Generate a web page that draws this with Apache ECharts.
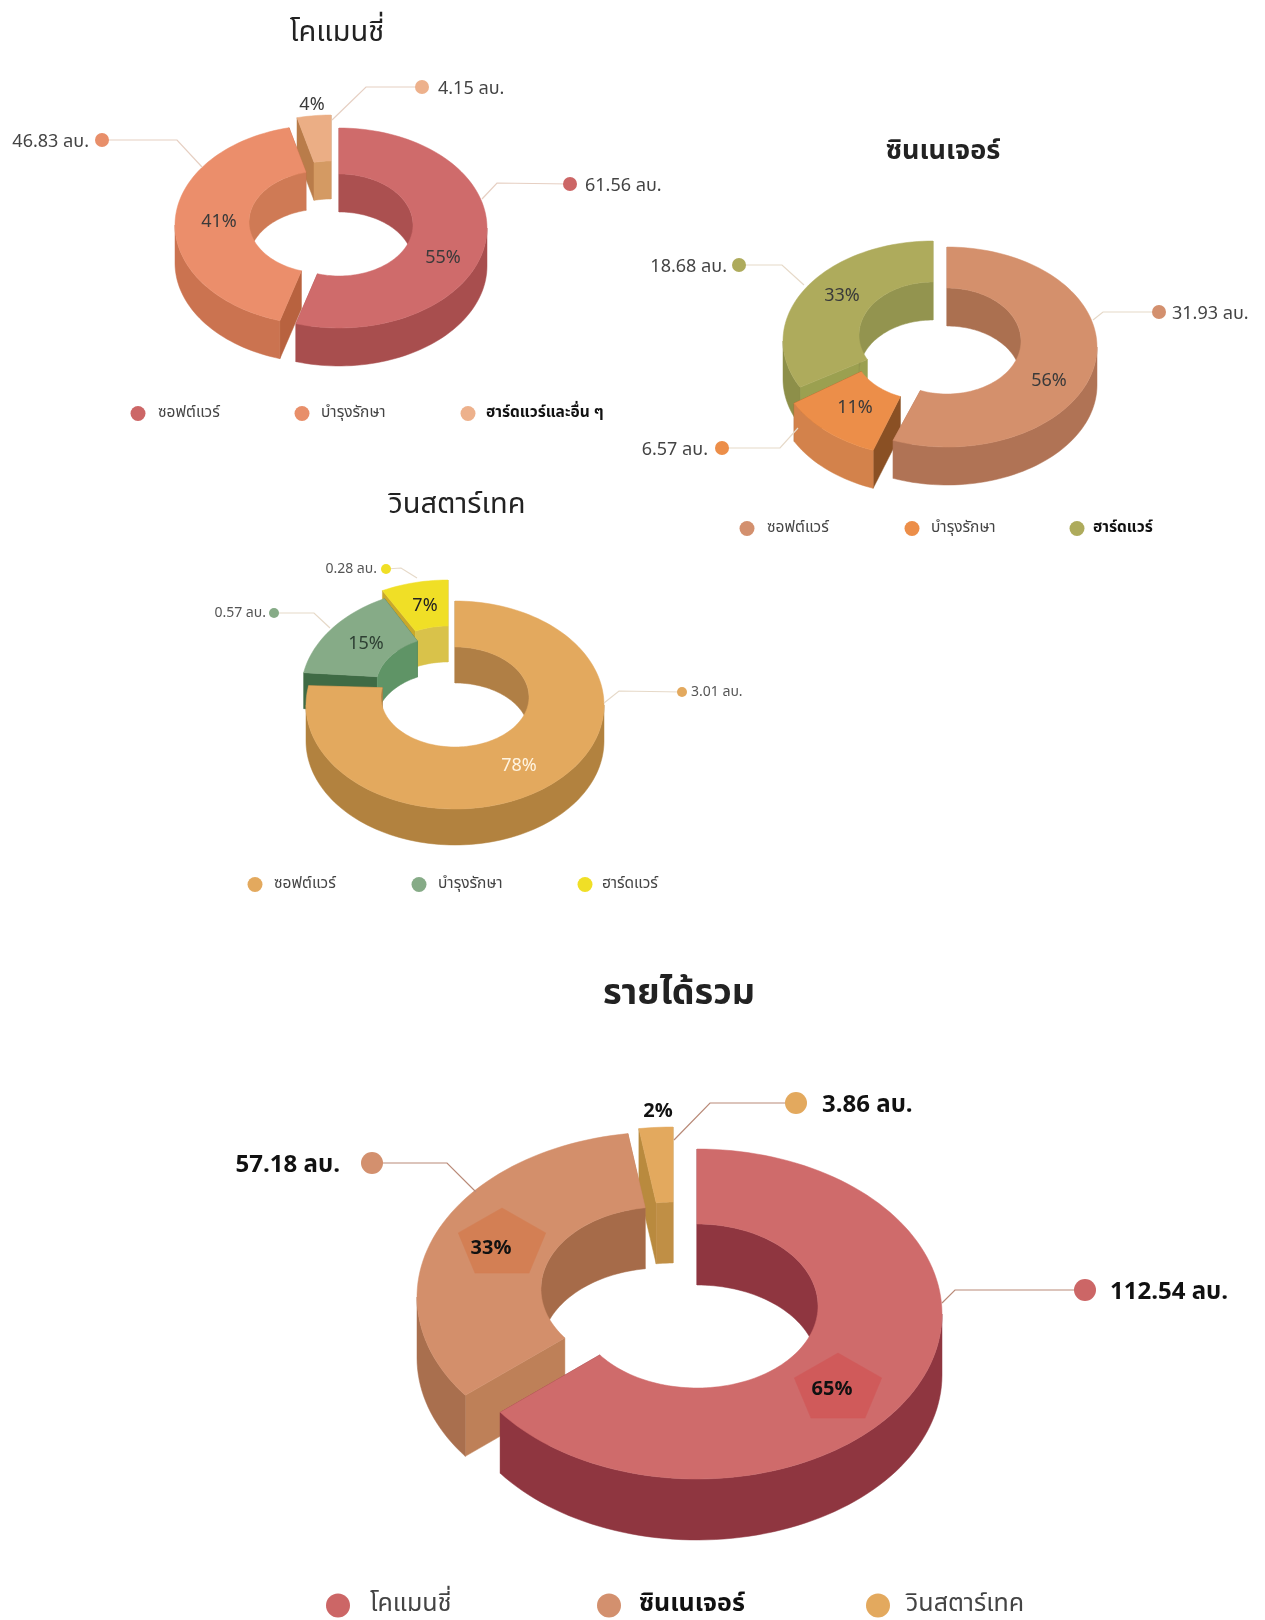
<!DOCTYPE html>
<html>
<head>
<meta charset="utf-8">
<title>รายได้รวม</title>
<script src="https://cdn.jsdelivr.net/npm/echarts@6/dist/echarts.min.js"></script>
<style>
  html, body { margin: 0; padding: 0; background: #fff; }
  #chart { width: 1265px; height: 1620px; }
</style>
</head>
<body>
<div id="chart"></div>
<script>
const fontName = '"Noto Sans Thai", "Noto Sans", sans-serif';
const unit = ' ลบ.';

// values
const comancheNames = ['ซอฟต์แวร์', 'บำรุงรักษา', 'ฮาร์ดแวร์และอื่น ๆ'];
const comancheValues = [61.56, 46.83, 4.15];
const comanchePercents = [55, 41, 4];

const synergyNames = ['ซอฟต์แวร์', 'บำรุงรักษา', 'ฮาร์ดแวร์'];
const synergyValues = [31.93, 6.57, 18.68];
const synergyPercents = [56, 11, 33];

const winstarNames = ['ซอฟต์แวร์', 'บำรุงรักษา', 'ฮาร์ดแวร์'];
const winstarValues = [3.01, 0.57, 0.28];
const winstarPercents = [78, 15, 7];

const totalNames = ['โคแมนชี่', 'ซินเนเจอร์', 'วินสตาร์เทค'];
const totalValues = [112.54, 57.18, 3.86];
const totalPercents = [65, 33, 2];

const donuts = [
  {
    title: 'โคแมนชี่', titleX: 332, titleY: 30, titleSize: 29, titleWeight: 'normal',
    names: comancheNames, values: comancheValues, percents: comanchePercents,
    rx: 148, ry: 100, rxIn: 74, ryIn: 51, inDys: [-3, -3, -3], depth: 38,
    centers: [[339, 228], [323, 225], [331, 215]],
    colors: [
      { top: '#CF6B6B', outer: '#A84E4E', inner: '#AB5050', cut: '#A84E4E' },
      { top: '#EB8E6B', outer: '#CB7350', inner: '#CF7A55', cut: '#B8623F' },
      { top: '#EBAE85', outer: '#D49A63', inner: '#D49A63', cut: '#B97C4A' }
    ],
    leaderColor: '#E6CFC2', valueSize: 18, percentSize: 18, valueColor: '#444', percentColor: '#3A3A3A', dotSize: 7,
    leaders: [
      [[482, 199], [497, 183], [570, 184]],
      [[202, 167], [177, 140], [102, 140]],
      [[332, 120], [366, 87], [422, 87]]
    ],
    valueX: [585, 89, 438], valueAlign: ['left', 'right', 'left'],
    percentPos: [[443, 256], [219, 220], [312, 103]],
    legendY: 413, legendSize: 15.5, legendDot: 15,
    legendX: [138, 302, 468], legendTextX: [158, 321, 486], legendBold: [false, false, true],
    legendColors: ['#CC6666', '#E88F6A', '#EDB18C']
  },
  {
    title: 'ซินเนเจอร์', titleX: 938, titleY: 149, titleSize: 27, titleWeight: 'bold',
    names: synergyNames, values: synergyValues, percents: synergyPercents,
    rx: 150, ry: 100, rxIn: 74, ryIn: 53, inDys: [-6, -10, -6], depth: 38,
    centers: [[947, 347], [927, 357], [933, 341]],
    colors: [
      { top: '#D4906C', outer: '#B07355', inner: '#AB7050', cut: '#B07355' },
      { top: '#EC8E49', outer: '#D3824B', inner: '#D3824B', cut: '#8A5024' },
      { top: '#AEAB5C', outer: '#8D8F49', inner: '#93944F', cut: '#9BA050' }
    ],
    leaderColor: '#E6D9C8', valueSize: 18, percentSize: 18, valueColor: '#444', percentColor: '#3A3A3A', dotSize: 7,
    leaders: [
      [[1093, 320], [1103, 312], [1159, 312]],
      [[798, 428], [780, 448], [722, 448]],
      [[804, 285], [782, 265], [739, 265]]
    ],
    valueX: [1172, 708, 727], valueAlign: ['left', 'right', 'right'],
    percentPos: [[1049, 379], [855, 406], [842, 294]],
    legendY: 528, legendSize: 15.5, legendDot: 15,
    legendX: [747, 912, 1077], legendTextX: [767, 931, 1093], legendBold: [false, false, true],
    legendColors: ['#D3906E', '#EC8E49', '#AEAB5C']
  },
  {
    title: 'วินสตาร์เทค', titleX: 452, titleY: 502, titleSize: 29, titleWeight: 'normal',
    names: winstarNames, values: winstarValues, percents: winstarPercents,
    rx: 149, ry: 104, rxIn: 74, ryIn: 50, inDys: [-8, -6, -8], depth: 36,
    centers: [[455, 705], [450, 692], [448, 684]],
    colors: [
      { top: '#E3A95E', outer: '#B2823F', inner: '#B07F45', cut: '#B2823F' },
      { top: '#86AB87', outer: '#3F6B45', inner: '#5F9466', cut: '#3F6B45' },
      { top: '#F0DF26', outer: '#D9C24A', inner: '#D9C24A', cut: '#C9A82B' }
    ],
    leaderColor: '#E6D9C8', valueSize: 14, percentSize: 18, valueColor: '#555', percentColor: '#2E3F33', dotSize: 5,
    leaders: [
      [[604, 703], [619, 691], [682, 692]],
      [[330, 628], [314, 613], [274, 613]],
      [[417, 578], [401, 568], [386, 569]]
    ],
    valueX: [691, 266, 377], valueAlign: ['left', 'right', 'right'],
    percentPos: [[519, 764], [366, 642], [425, 604]],
    percentColors: ['#FFF4E0', '#2E3F33', '#222'],
    legendY: 884, legendSize: 15.5, legendDot: 15,
    legendX: [255, 419, 585], legendTextX: [274, 438, 602], legendBold: [false, false, false],
    legendColors: ['#E3A95E', '#86AB87', '#F0DF26']
  },
  {
    title: 'รายได้รวม', titleX: 674, titleY: 992, titleSize: 36, titleWeight: 'bold',
    names: totalNames, values: totalValues, percents: totalPercents,
    rx: 245, ry: 165, rxIn: 121, ryIn: 82, inDys: [-8, -8, -8], depth: 61,
    centers: [[697, 1314], [662, 1297], [673, 1292]],
    colors: [
      { top: '#CF6B6B', outer: '#8F3640', inner: '#8F3640', cut: '#8F3640' },
      { top: '#D38F6B', outer: '#A96F4E', inner: '#A66B49', cut: '#BE8058' },
      { top: '#E3A95E', outer: '#C08F45', inner: '#C08F45', cut: '#B98A3E' }
    ],
    leaderColor: '#B98A78', valueSize: 24, percentSize: 20, valueColor: '#111', percentColor: '#111', dotSize: 11,
    valueWeight: 'bold', percentWeight: 'bold',
    leaders: [
      [[942, 1303], [955, 1290], [1085, 1290]],
      [[476, 1192], [447, 1163], [372, 1163]],
      [[674, 1140], [710, 1103], [796, 1103]]
    ],
    valueX: [1110, 340, 822], valueAlign: ['left', 'right', 'left'],
    percentPos: [[832, 1388], [491, 1247], [658, 1110]],
    pentagons: [{ x: 838, y: 1389, w: 46, h: 36, color: '#D05A5A' }, { x: 502, y: 1244, w: 46, h: 36, color: '#D37F54' }, null],
    legendY: 1605, legendSize: 25, legendDot: 24,
    legendX: [338, 609, 878], legendTextX: [370, 639, 906], legendBold: [false, true, false],
    legendColors: ['#CC6666', '#D3906E', '#E3A95E']
  }
];

const toRad = Math.PI / 180;

function arc(cx, cy, rx, ry, from, to) {
  const pts = [];
  const steps = Math.max(1, Math.ceil(Math.abs(to - from) / 2));
  for (let i = 0; i <= steps; i++) {
    const t = (from + (to - from) * i / steps) * toRad;
    pts.push([cx + rx * Math.sin(t), cy - ry * Math.cos(t)]);
  }
  return pts;
}

function shift(pts, dy) {
  return pts.map(p => [p[0], p[1] + dy]);
}

function poly(points, fill) {
  return { type: 'polygon', shape: { points }, style: { fill, stroke: fill, lineWidth: 0.5 }, silent: true };
}

// thai glyphs sit high in the line box, push them down a bit
function textEl(x, y, text, color, size, weight, align) {
  const nudge = size < 15 ? 1 : size >= 22 ? 4 : 3;
  return {
    type: 'text',
    silent: true,
    style: { x, y: y + nudge, text, fill: color, fontSize: size, fontFamily: fontName, fontWeight: weight || 'normal', textAlign: align || 'center', textVerticalAlign: 'middle' }
  };
}

// one slice of the fake 3d donut, angles come from the value share
function makeRender(d, i) {
  return function (params, api) {
    const total = d.values.reduce((a, b) => a + b, 0);
    const before = d.values.slice(0, i).reduce((a, b) => a + b, 0);
    const start = before / total * 360;
    const end = start + api.value(0) / total * 360;
    const [cx, cy] = d.centers[i];
    const c = d.colors[i];
    const cyIn = cy + d.inDys[i];
    const kids = [];

    const cutFace = a => {
      const o = arc(cx, cy, d.rx, d.ry, a, a)[0];
      const n = arc(cx, cyIn, d.rxIn, d.ryIn, a, a)[0];
      return poly([o, n, [n[0], n[1] + d.depth], [o[0], o[1] + d.depth]], c.cut);
    };
    kids.push(cutFace(start), cutFace(end));

    // inner wall shows on the far side only
    const addInner = (a, b) => {
      if (b <= a) return;
      const top = arc(cx, cyIn, d.rxIn, d.ryIn, a, b);
      kids.push(poly(top.concat(shift(top, d.depth).reverse()), c.inner));
    };
    addInner(start, Math.min(end, 90));
    addInner(Math.max(start, 270), end);

    // outer wall shows on the near side only
    const oa = Math.max(start, 90), ob = Math.min(end, 270);
    if (ob > oa) {
      const top = arc(cx, cy, d.rx, d.ry, oa, ob);
      kids.push(poly(top.concat(shift(top, d.depth).reverse()), c.outer));
    }

    // top face
    kids.push(poly(arc(cx, cy, d.rx, d.ry, start, end).concat(arc(cx, cyIn, d.rxIn, d.ryIn, start, end).reverse()), c.top));

    // highlighted pentagon behind the percent label
    const pen = d.pentagons && d.pentagons[i];
    if (pen) {
      const pts = [];
      for (let k = 0; k < 5; k++) {
        const a = k * 72 * toRad;
        pts.push([pen.x + pen.w * Math.sin(a), pen.y - pen.h * Math.cos(a)]);
      }
      kids.push(poly(pts, pen.color));
    }

    // leader line, dot and texts
    const lead = d.leaders[i];
    const tip = lead[2];
    kids.push({ type: 'polyline', silent: true, shape: { points: lead }, style: { stroke: d.leaderColor, lineWidth: 1.2, fill: 'none' } });
    kids.push({ type: 'circle', silent: true, shape: { cx: tip[0], cy: tip[1], r: d.dotSize }, style: { fill: d.legendColors[i] } });
    kids.push(textEl(d.valueX[i], tip[1], api.value(0).toFixed(2) + unit, d.valueColor, d.valueSize, d.valueWeight, d.valueAlign[i]));
    const pp = d.percentPos[i];
    const pc = d.percentColors ? d.percentColors[i] : d.percentColor;
    kids.push(textEl(pp[0], pp[1], api.value(1) + '%', pc, d.percentSize, d.percentWeight));

    return { type: 'group', children: kids };
  };
}

const series = [];
const legends = [];
const titles = [];

donuts.forEach((d, di) => {
  titles.push({
    text: d.title, left: d.titleX, top: d.titleY, textAlign: 'center', textVerticalAlign: 'middle',
    textStyle: { fontFamily: fontName, fontSize: d.titleSize, fontWeight: d.titleWeight, color: '#222' }
  });
  d.names.forEach((name, i) => {
    series.push({
      type: 'custom',
      name,
      coordinateSystem: 'none',
      z: 2 + di * 10 + (d.names.length - i),
      animation: false,
      silent: true,
      data: [[d.values[i], d.percents[i]]],
      renderItem: makeRender(d, i)
    });
    legends.push({
      show: true,
      left: d.legendX[i] - d.legendDot / 2,
      top: d.legendY - d.legendDot / 2,
      padding: 0,
      selectedMode: false,
      itemWidth: d.legendDot,
      itemHeight: d.legendDot,
      data: [{
        name, icon: 'circle', itemStyle: { color: d.legendColors[i] },
        textStyle: { fontFamily: fontName, fontSize: d.legendSize, color: d.legendBold[i] ? '#111' : '#444', fontWeight: d.legendBold[i] ? 'bold' : 'normal', padding: [0, 0, 0, d.legendTextX[i] - d.legendX[i] - d.legendDot / 2 - 5] }
      }]
    });
  });
});

const chart = echarts.init(document.getElementById('chart'), null, { renderer: 'canvas' });
chart.setOption({
  backgroundColor: '#fff',
  animation: false,
  title: titles,
  legend: legends,
  series
});
</script>
</body>
</html>
